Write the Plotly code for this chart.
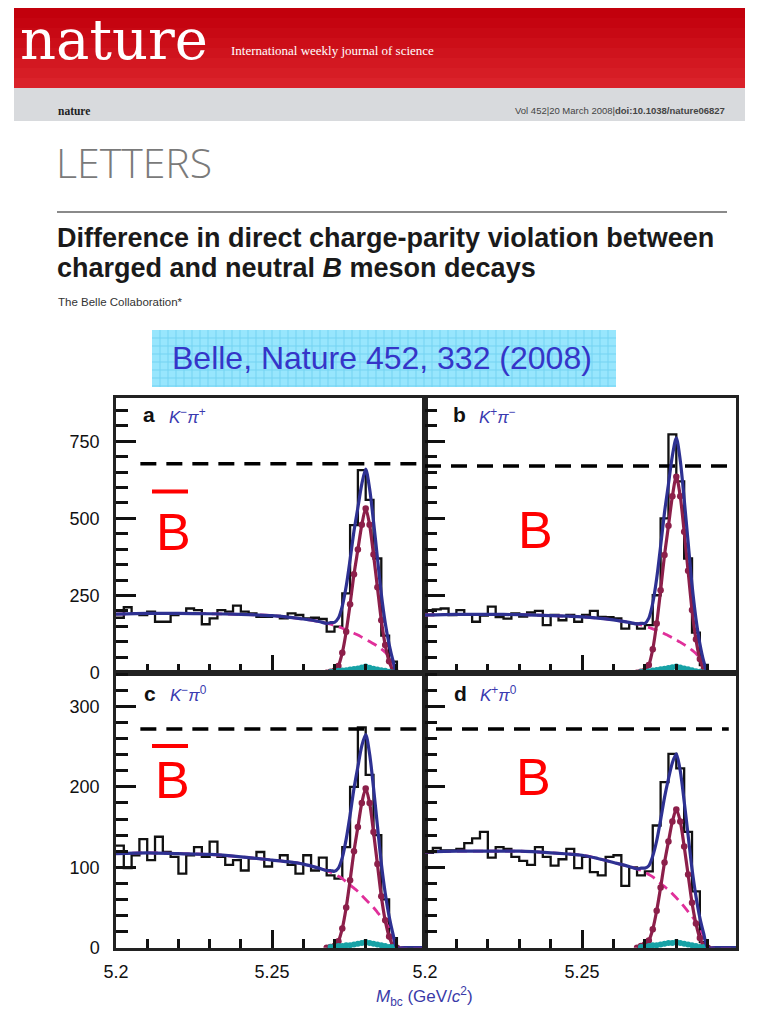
import plotly.graph_objects as go

# the page places the figure 8 px from the top-left corner of the window
OFF = 8
W, H = 773 - OFF, 1010 - OFF

# ---------------- data ----------------
BIN_LO = 5.200
BIN_W = 0.0025
N_BINS = 40

hist_a = [178, 212, 192, 187, 198, 165, 165, 187, 192, 208, 203, 157, 176, 203, 198, 217, 198, 192, 181, 181,
          184, 176, 192, 187, 176, 178, 174, 133, 149, 257, 478, 656, 560, 370, 120, 36, 5, 0, 0, 0]
hist_b = [187, 205, 208, 187, 203, 190, 165, 185, 214, 180, 175, 192, 182, 195, 200, 154, 187, 170, 187, 165,
          187, 200, 181, 180, 176, 143, 160, 143, 154, 251, 500, 772, 620, 370, 130, 25, 0, 0, 0, 0]
hist_c = [127, 99, 115, 135, 109, 138, 119, 113, 92, 115, 125, 113, 132, 113, 103, 109, 96, 111, 119, 101,
          109, 115, 103, 92, 115, 96, 112, 90, 86, 125, 200, 274, 215, 140, 60, 12, 0, 0, 0, 0]
hist_d = [118, 124, 121, 121, 123, 130, 136, 144, 112, 125, 123, 113, 108, 103, 125, 113, 102, 110, 123, 99,
          113, 94, 90, 113, 115, 77, 100, 90, 95, 152, 206, 241, 223, 144, 70, 7, 0, 0, 0, 0]

fit_x = [5.200, 5.210, 5.220, 5.230, 5.240, 5.250, 5.255, 5.260, 5.265,
         5.2675, 5.26875, 5.2700, 5.27125, 5.2725, 5.27375, 5.2750, 5.27625, 5.2775, 5.27875,
         5.2800, 5.28125, 5.2825, 5.28375, 5.2850, 5.28625, 5.2875, 5.28875, 5.2900,
         5.2925, 5.2990]
sig_x = fit_x[9:28]

bg_a = [190, 192, 192, 191, 189, 185, 180, 174, 166, 160, 157, 153, 149, 144, 139, 134, 128, 122, 115,
        108, 101, 94, 86, 77, 66, 52, 30, 0, 0, 0]
tot_a = [190, 192, 192, 191, 189, 185, 180, 174, 166, 160, 162, 163, 177, 216, 280, 366, 459, 535, 611,
         660, 596, 490, 373, 255, 162, 92, 39, 0, 0, 0]
sig_a = [0, 3, 6, 22, 65, 133, 222, 319, 399, 479, 532, 479, 383, 277, 170, 90, 37, 8, 0]
teal_a = [0, 2, 4, 6, 7, 8, 10, 12, 14, 17, 20, 16, 13, 10, 8, 6, 3, 1, 0]

bg_b = [187, 189, 189, 188, 185, 181, 177, 171, 163, 158, 155, 151, 147, 142, 137, 132, 126, 120, 113,
        106, 99, 91, 83, 73, 62, 47, 25, 0, 0, 0]
tot_b = [187, 189, 189, 188, 185, 181, 177, 171, 163, 158, 160, 160, 177, 225, 305, 410, 520, 611, 703,
         761, 688, 562, 424, 284, 175, 94, 36, 0, 0, 0]
sig_b = [0, 3, 6, 25, 76, 159, 267, 381, 476, 572, 635, 572, 457, 330, 203, 108, 44, 10, 0]
teal_b = [0, 2, 3, 5, 7, 9, 11, 13, 15, 18, 20, 17, 14, 11, 8, 5, 3, 1, 0]

bg_c = [117, 118, 117, 116, 113, 109, 107, 104, 99, 96, 94, 92, 89, 86, 82, 78, 74, 70, 65,
        60, 55, 50, 44, 38, 32, 24, 13, 0, 0, 0]
tot_c = [117, 118, 117, 116, 113, 109, 107, 104, 99, 96, 96, 95, 99, 112, 135, 165, 198, 225, 251,
         265, 241, 199, 152, 105, 68, 39, 17, 0, 0, 0]
sig_c = [0, 1, 2, 8, 24, 50, 84, 120, 150, 180, 198, 180, 144, 104, 64, 34, 14, 3, 0]
teal_c = [0, 1, 1, 2, 2, 3, 3, 4, 5, 6, 7, 6, 5, 4, 3, 2, 1, 1, 0]

bg_d = [119, 120, 120, 120, 118, 115, 111, 106, 101, 98, 96, 94, 91, 88, 84, 80, 76, 72, 67,
        62, 57, 51, 45, 39, 32, 24, 13, 0, 0, 0]
tot_d = [119, 120, 120, 120, 118, 115, 111, 106, 101, 98, 99, 99, 102, 114, 133, 159, 187, 210, 230,
         241, 220, 182, 140, 98, 64, 37, 17, 0, 0, 0]
sig_d = [0, 2, 4, 9, 23, 46, 75, 106, 132, 157, 172, 157, 126, 91, 56, 30, 12, 3, 0]
teal_d = [0, 1, 1, 2, 3, 3, 4, 5, 6, 6, 7, 6, 5, 4, 3, 2, 1, 1, 0]

# dashed reference levels (x start, x end, level)
ref_a = [5.2078, 5.2990, 677]
ref_b = [5.2000, 5.2966, 670]
ref_c = [5.2078, 5.2990, 272]
ref_d = [5.2035, 5.2967, 272]

panel_letters = ["a", "b", "c", "d"]
panel_modes = ["<i>K</i><sup>−</sup><i>π</i><sup>+</sup>", "<i>K</i><sup>+</sup><i>π</i><sup>−</sup>",
               "<i>K</i><sup>−</sup><i>π</i><sup>0</sup>", "<i>K</i><sup>+</sup><i>π</i><sup>0</sup>"]

# ---------------- helpers (window pixel -> paper fraction) ----------------
def px(x):
    return (x - OFF) / W


def py(y):
    return 1 - (y - OFF) / H


SANS = "Liberation Sans, Arial, sans-serif"
SERIF = "DejaVu Serif, Liberation Serif, serif"

BLUE = "#2e3192"
MAROON = "#8c1f4a"
PINK = "#e0309a"
TEAL = "#17a2a6"

fig = go.Figure()

edges = [BIN_LO + i * BIN_W for i in range(N_BINS + 1)]

panels = [
    ("x", "y", hist_a, bg_a, tot_a, sig_a, teal_a, ref_a),
    ("x2", "y2", hist_b, bg_b, tot_b, sig_b, teal_b, ref_b),
    ("x3", "y3", hist_c, bg_c, tot_c, sig_c, teal_c, ref_c),
    ("x4", "y4", hist_d, bg_d, tot_d, sig_d, teal_d, ref_d),
]

for xa, ya, hist, bg, tot, sig, teal, ref in panels:
    fig.add_trace(go.Scatter(x=edges, y=hist + [hist[-1]], mode="lines", xaxis=xa, yaxis=ya,
                             line=dict(color="#111111", width=2.3, shape="hv")))
    fig.add_trace(go.Scatter(x=[ref[0], ref[1]], y=[ref[2], ref[2]], mode="lines", xaxis=xa, yaxis=ya,
                             line=dict(color="#000000", width=3.5, dash="16px,10px")))
    fig.add_trace(go.Scatter(x=fit_x, y=bg, mode="lines", xaxis=xa, yaxis=ya,
                             line=dict(color=PINK, width=2.8, dash="10px,6px", shape="spline", smoothing=0.8)))
    fig.add_trace(go.Scatter(x=sig_x, y=sig, mode="lines+markers", xaxis=xa, yaxis=ya,
                             line=dict(color=MAROON, width=3.2, shape="spline", smoothing=0.8),
                             marker=dict(color=MAROON, size=6.5)))
    fig.add_trace(go.Scatter(x=sig_x[1:-1], y=teal[1:-1], mode="markers", xaxis=xa, yaxis=ya, cliponaxis=False,
                             marker=dict(color=TEAL, size=6)))
    fig.add_trace(go.Scatter(x=fit_x, y=tot, mode="lines", xaxis=xa, yaxis=ya,
                             line=dict(color=BLUE, width=3.2, shape="spline", smoothing=0.8)))

# ---------------- axes ----------------
X_L, X_M, X_R = 116, 425, 736
Y_T, Y_M, Y_B = 398, 672.7, 947.7

AX_COL = "#222222"
tickfont = dict(family=SANS, size=18, color="#111111")


def xaxis(dom, anchor, labels):
    return dict(domain=[px(dom[0]), px(dom[1])], anchor=anchor, range=[5.2, 5.299], automargin=False,
                showline=True, linecolor=AX_COL, linewidth=2.5, mirror=True,
                ticks="inside", ticklen=18, tickwidth=2.5, tickcolor="#111111",
                tick0=5.2, dtick=0.05, showticklabels=labels, tickfont=tickfont,
                ticklabelstandoff=6,
                minor=dict(ticks="inside", dtick=0.01, tick0=5.2, ticklen=9, tickwidth=2.5,
                           tickcolor="#111111", showgrid=False),
                showgrid=False, zeroline=False, fixedrange=True)


def yaxis(dom, anchor, top, major, minor, labels):
    return dict(domain=[py(dom[1]), py(dom[0])], anchor=anchor, range=[0, top], automargin=False,
                showline=True, linecolor=AX_COL, linewidth=2.5, mirror=True,
                ticks="inside", ticklen=20, tickwidth=2.5, tickcolor="#111111",
                tick0=0, dtick=major, showticklabels=labels, tickfont=tickfont,
                ticklabelstandoff=10,
                minor=dict(ticks="inside", dtick=minor, tick0=0, ticklen=12, tickwidth=2.5,
                           tickcolor="#111111", showgrid=False),
                showgrid=False, zeroline=False, fixedrange=True)


fig.update_layout(
    xaxis=xaxis((X_L, X_M), "y", False),
    xaxis2=xaxis((X_M, X_R), "y2", False),
    xaxis3=xaxis((X_L, X_M), "y3", True),
    xaxis4=xaxis((X_M, X_R), "y4", True),
    yaxis=yaxis((Y_T, Y_M), "x", 890, 250, 50, True),
    yaxis2=yaxis((Y_T, Y_M), "x2", 890, 250, 50, False),
    yaxis3=yaxis((Y_M, Y_B), "x3", 342, 100, 20, True),
    yaxis4=yaxis((Y_M, Y_B), "x4", 342, 100, 20, False),
)

# ---------------- decorations ----------------
shapes = []
# red banner (banded gradient)
n_band = 8
c0 = (194, 0, 12)
c1 = (218, 34, 42)
for i in range(n_band):
    t = i / (n_band - 1)
    col = "rgb(%d,%d,%d)" % tuple(int(c0[k] + (c1[k] - c0[k]) * t) for k in range(3))
    y0 = 8 + 80 * i / n_band if i > 0 else OFF
    y1 = 8 + 80 * (i + 1) / n_band + 0.6
    shapes.append(dict(type="rect", xref="paper", yref="paper", x0=px(14), x1=px(745),
                       y0=py(y1), y1=py(y0), fillcolor=col, line=dict(width=0), layer="below"))
# grey band
shapes.append(dict(type="rect", xref="paper", yref="paper", x0=px(14), x1=px(745), y0=py(121), y1=py(88),
                   fillcolor="#d8dadd", line=dict(width=0), layer="below"))
# rule
shapes.append(dict(type="line", xref="paper", yref="paper", x0=px(57), x1=px(727), y0=py(212), y1=py(212),
                   line=dict(color="#8a8a8a", width=2)))
# cyan box with grid
BX0, BX1, BY0, BY1 = 152, 616, 330, 387
shapes.append(dict(type="rect", xref="paper", yref="paper", x0=px(BX0), x1=px(BX1), y0=py(BY1), y1=py(BY0),
                   fillcolor="#98e6fd", line=dict(width=0), layer="below"))
gx = BX0 + 8
while gx < BX1:
    shapes.append(dict(type="line", xref="paper", yref="paper", x0=px(gx), x1=px(gx), y0=py(BY1), y1=py(BY0),
                       line=dict(color="#74d3f2", width=1), layer="below"))
    gx += 8
gy = BY0 + 8
while gy < BY1:
    shapes.append(dict(type="line", xref="paper", yref="paper", x0=px(BX0), x1=px(BX1), y0=py(gy), y1=py(gy),
                       line=dict(color="#74d3f2", width=1), layer="below"))
    gy += 8
# bars over the anti-B labels
for yb in (491.5, 746):
    shapes.append(dict(type="line", xref="paper", yref="paper", x0=px(152), x1=px(188), y0=py(yb), y1=py(yb),
                       line=dict(color="#ff0000", width=4)))

ann = []


def text(x, y, s, size, color, family=SANS, xanchor="left", weight="normal"):
    ann.append(dict(x=px(x), y=py(y), xref="paper", yref="paper", text=s, showarrow=False,
                    xanchor=xanchor, yanchor="middle",
                    font=dict(family=family, size=size, color=color, weight=weight)))


text(18, 40, "nature", 56, "#ffffff", family=SERIF)
text(229, 50, "International weekly journal of science", 13, "#ffffff",
     family="Liberation Serif, Times New Roman, serif")
text(56, 111, "<b>nature</b>", 11.5, "#222222", family="Liberation Serif, Times New Roman, serif")
text(727, 111, "Vol 452|20 March 2008|<b>doi:10.1038/nature06827</b>", 9.5, "#444444", xanchor="right")
text(54, 162, "LETTERS", 41, "#7a7a7a", family="Open Sans, Lato, sans-serif", weight=300)
text(55, 238, "<b>Difference in direct charge-parity violation between</b>", 27, "#1a1a1a")
text(55, 268, "<b>charged and neutral <i>B</i> meson decays</b>", 27, "#1a1a1a")
text(56, 302, "The Belle Collaboration*", 11.5, "#333333")
text(382, 358, "Belle, Nature 452, 332 (2008)", 32, "#3535c8", xanchor="center")

# panel labels
for (lx, ly), letter, mode in zip([(141, 415), (451, 415), (142, 693), (452, 693)], panel_letters, panel_modes):
    text(lx, ly, "<b>%s</b>" % letter, 21, "#111111")
    text(lx + 26, ly + 1, mode, 17, "#3a3ab0")

# B / anti-B labels
for bx, by in [(173, 532), (535, 530), (172, 780), (533, 777)]:
    text(bx, by, "B", 52, "#ff0000", xanchor="center")

# x-axis title
text(425, 996, "<i>M</i><sub>bc</sub> (GeV/<i>c</i><sup>2</sup>)", 17, "#3a3aa8", xanchor="center")

fig.update_layout(
    width=W, height=H, autosize=False,
    margin=dict(l=0, r=0, t=0, b=0, pad=0),
    paper_bgcolor="#ffffff", plot_bgcolor="#ffffff",
    showlegend=False, hovermode=False,
    shapes=shapes, annotations=ann,
)

fig.write_html("out.html")
